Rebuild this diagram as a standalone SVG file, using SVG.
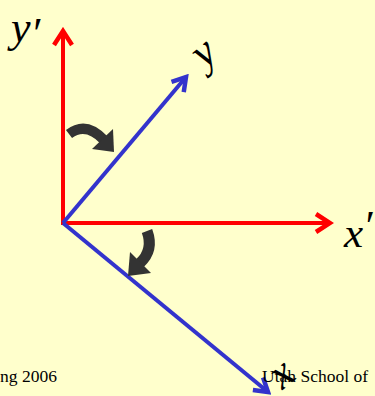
<svg xmlns="http://www.w3.org/2000/svg" width="375" height="396" viewBox="0 0 375 396">
<style>
.red{stroke:#FF0000;stroke-width:4;fill:none}
.blue{stroke:#3333CC;stroke-width:4;fill:none}
.lbl{font-family:"Liberation Serif","Times New Roman",serif;font-style:italic;fill:#000}
.foot{font-family:"Liberation Serif","Times New Roman",serif;font-size:17.5px;fill:#000}
.rot{stroke:#333333;fill:none}
.rothead{fill:#333333}
</style>
<defs>
<marker id="ar" markerUnits="userSpaceOnUse" viewBox="-20 -12 24 24" refX="0" refY="0" markerWidth="24" markerHeight="24" orient="auto">
<path d="M-14,-9 L0,0 L-14,9" stroke="#FF0000" stroke-width="4.5" fill="none" stroke-linejoin="miter"/>
</marker>
<marker id="ab" markerUnits="userSpaceOnUse" viewBox="-20 -12 24 24" refX="0" refY="0" markerWidth="24" markerHeight="24" orient="auto">
<path d="M-13,-8 L0,0 L-13,8" stroke="#3333CC" stroke-width="4.5" fill="none" stroke-linejoin="miter"/>
</marker>
</defs>
<rect x="0" y="0" width="375" height="396" fill="#FFFFCC"/>
<g id="connectors">
<line class="red" x1="63" y1="223" x2="63" y2="31" marker-end="url(#ar)"/>
<line class="red" x1="61" y1="223" x2="330" y2="223" marker-end="url(#ar)"/>
<line class="blue" x1="63" y1="223" x2="186" y2="77" marker-end="url(#ab)"/>
<line class="blue" x1="63" y1="223" x2="268" y2="392" marker-end="url(#ab)"/>
</g>
<g id="rot1">
<path class="rot" d="M69,134 Q86,121 104,140" stroke-width="10"/>
<polygon class="rothead" points="113,129 114,152 92,149"/>
</g>
<g id="rot2">
<path class="rot" d="M147,231 Q154,250 140,263" stroke-width="11"/>
<polygon class="rothead" points="130,252 151,273 128,276"/>
</g>
<g id="labels">
<text class="lbl" x="11" y="42" font-size="44">y<tspan dy="6">′</tspan></text>
<text class="lbl" x="344" y="247" font-size="43">x<tspan dy="-7">′</tspan></text>
<text class="lbl" font-size="44" text-anchor="middle" transform="translate(212,63) rotate(-40)">y</text>
<text class="lbl" font-size="44" text-anchor="middle" transform="translate(290,384) rotate(-40)">x</text>
</g>
<g id="footer">
<text class="foot" x="0" y="382">ng 2006</text>
<text class="foot" x="262" y="382">Utah School of</text>
</g>
</svg>
